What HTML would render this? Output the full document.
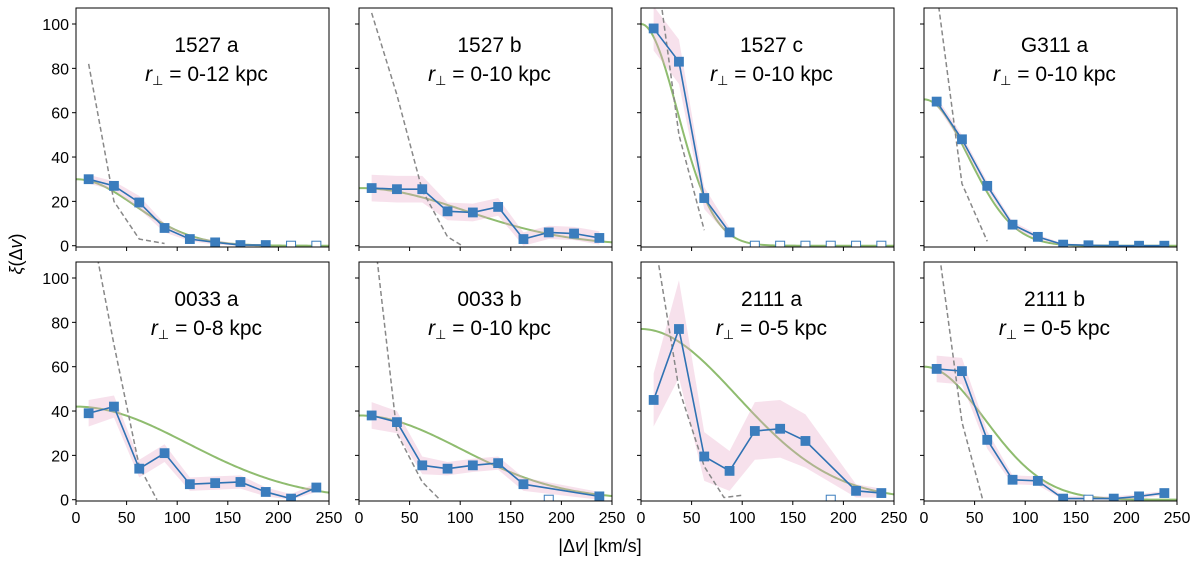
<!DOCTYPE html>
<html><head><meta charset="utf-8"><style>
body{margin:0;background:#fff}
svg{display:block;font-family:"Liberation Sans","DejaVu Sans",sans-serif}
</style></head><body>
<svg id="fig" width="1200" height="562" viewBox="0 0 1200 562" xmlns="http://www.w3.org/2000/svg">
<text x="22" y="254" font-size="18" text-anchor="middle" transform="rotate(-90 22 254)"><tspan font-style="italic">ξ</tspan>(Δ<tspan font-style="italic">v</tspan>)</text>
<text x="600" y="552" font-size="18" text-anchor="middle">|Δ<tspan font-style="italic">v</tspan>| [km/s]</text>
</svg>
<script>
const xs = [12.5,37.5,62.5,87.5,112.5,137.5,162.5,187.5,212.5,237.5];
const titles = ["1527 a","1527 b","1527 c","G311 a","0033 a","0033 b","2111 a","2111 b"];
const ranges = ["0-12","0-10","0-10","0-10","0-8","0-10","0-5","0-5"];
const vals = [
 [30,27,19.5,8,3,1.5,0.3,0.3,0,0],
 [26,25.5,25.5,15.5,15,17.5,3,6,5.5,3.5],
 [98,83,21.5,6,0,0,0,0,0,0],
 [65,48,27,9.5,4,0.5,0.2,0,0,0],
 [39,42,14,21,7,7.5,8,3.5,0.5,5.5],
 [38,35,15.5,14,15.5,16.5,7,0,null,1.5],
 [45,77,19.5,13,31,32,26.5,0,4,3],
 [59,58,27,9,8.5,0.5,0,0.5,1.5,3]
];
const open = [
 [0,0,0,0,0,0,0,0,1,1],[0,0,0,0,0,0,0,0,0,0],[0,0,0,0,1,1,1,1,1,1],[0,0,0,0,0,0,0,0,0,0],
 [0,0,0,0,0,0,0,0,0,0],[0,0,0,0,0,0,0,1,0,0],[0,0,0,0,0,0,0,1,0,0],[0,0,0,0,0,0,1,0,0,0]
];
const errs = [
 [2,2,3,2,1,1,0.5,0.5,0,0],
 [6,6,6,4,4,4,3,3,3,3],
 [10,10,5,2,0,0,0,0,0,0],
 [2,2,2,1.5,1,0.5,0.5,0,0,0],
 [6,5,4,4,3,3,3,2,2,2],
 [6,5,4,3,3,3,3,0,0,2],
 [12,22,11,9,13,13,12,0,3,2],
 [6,6,4,2,2,1,1,1,1,1]
];
const amps = [30,26,100,66,42,38,77,60];
const sigmas = [58,105,36,44,110,100,95,60];
const dashX = [
 [12.5,37.5,62.5,87.5],[12.5,37.5,62.5,87.5,102],[5,37.5,62.5],[12.5,37.5,62.5],
 [12.5,37.5,62.5,80],[12.5,37.5,62.5,80],[12.5,37.5,62.5,82,100],[12.5,37.5,58]
];
const dashY = [
 [82,20,3,1],[105,68,25,4,0],[160,50,7],[115,28,2],
 [130,70,15,0],[130,30,8,0],[120,50,15,1,2],[120,35,0]
];
const NS="http://www.w3.org/2000/svg";
const svg=document.getElementById('fig');
function el(t,a,p){const e=document.createElementNS(NS,t);for(const k in a)e.setAttribute(k,a[k]);(p||svg).appendChild(e);return e;}
const lefts=[76,359,641,924], tops=[8,262], W=253, H=239;
for(let i=0;i<8;i++){
 const L=lefts[i%4], T=tops[Math.floor(i/4)];
 const sx=v=>L+v/250*W, sy=v=>T+H-1.3 -(v+0.4)*2.217+0.9;
 const g=el('g',{});
 
 
 const cid='c'+i; const cp=el('clipPath',{id:cid},g); el('rect',{x:L,y:T,width:W,height:H},cp);
 const pg=el('g',{'clip-path':'url(#'+cid+')'},g);
 let d='';for(let v=0;v<=250;v+=2){const y=amps[i]*Math.exp(-v*v/(2*sigmas[i]*sigmas[i]));d+=(v?'L':'M')+sx(v)+' '+sy(y);}
 const gm=el('path',{d:d,fill:'none',stroke:'#8fbc6f','stroke-width':2},pg);
 
 
 let up=[],dn=[];
 for(let k=0;k<10;k++){if(vals[i][k]===null||open[i][k])continue;up.push(sx(xs[k])+','+sy(vals[i][k]+errs[i][k]));dn.unshift(sx(xs[k])+','+sy(Math.max(vals[i][k]-errs[i][k],0)));}
 const band=el('polygon',{points:up.concat(dn).join(' '),fill:'#e8a8c8','fill-opacity':0.35},pg);
 
 
 let dd='';dashX[i].forEach((v,k)=>{dd+=(k?'L':'M')+sx(v)+' '+sy(dashY[i][k]);});
 const dl=el('path',{d:dd,fill:'none',stroke:'#888','stroke-width':1.5,'stroke-dasharray':'5,3'},pg);
 
 
 let ld='',first=true;
 for(let k=0;k<10;k++){if(vals[i][k]===null||open[i][k])continue;ld+=(first?'M':'L')+sx(xs[k])+' '+sy(vals[i][k]);first=false;}
 const ln=el('path',{d:ld,fill:'none',stroke:'#2f72b3','stroke-width':1.6},pg);
 
 
 for(let k=0;k<10;k++){if(vals[i][k]===null)continue;
  const o=open[i][k];
  const m=el('rect',{x:sx(xs[k])-4.5,y:sy(vals[i][k])-4.5,width:9,height:9,fill:o?'#fff':'#3b7dbd',stroke:'#3b7dbd','stroke-width':o?1:0.8},pg);
  
  }
 const fr=el('rect',{x:L,y:T,width:W,height:H,fill:'none',stroke:'#000','stroke-width':1},g);
 
 
 for(let v=0;v<=100;v+=20){const y=sy(v);el('line',{x1:L-4,x2:L,y1:y,y2:y,stroke:'#000'},g);
  if(i%4===0){const t=el('text',{x:L-7,y:y+6,'font-size':16,'text-anchor':'end'},g);t.textContent=v;
  
  }}
 for(let v=0;v<=250;v+=50){const x=sx(v);el('line',{x1:x,x2:x,y1:T+H,y2:T+H+4,stroke:'#000'},g);
  if(i>=4){const t=el('text',{x:x,y:T+H+22,'font-size':16,'text-anchor':'middle'},g);t.textContent=v;
  
  }}
 const cx=L+W/2+4;
 const t1=el('text',{x:cx,y:T+44,'font-size':21,'text-anchor':'middle'},g);t1.textContent=titles[i];
 
 
 const t2=el('text',{x:cx,y:T+73,'font-size':21,'text-anchor':'middle'},g);
 t2.innerHTML='<tspan font-style="italic">r</tspan><tspan font-size="13" dy="4">⊥</tspan><tspan dy="-4"> = '+ranges[i]+' kpc</tspan>';
 
 
}
</script>
</body></html>
